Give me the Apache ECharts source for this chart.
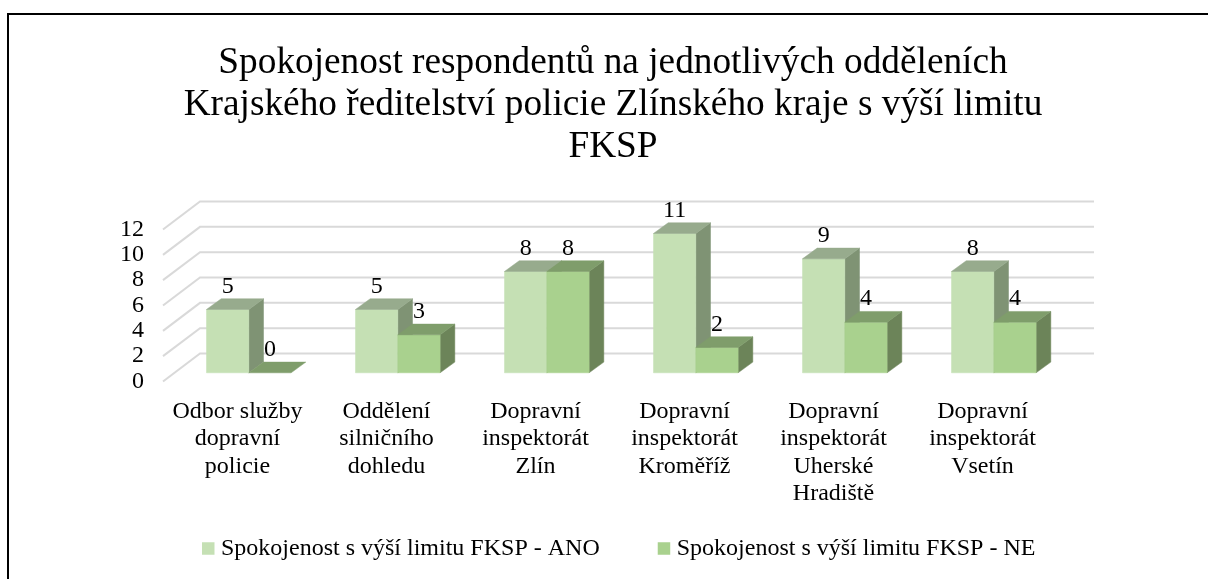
<!DOCTYPE html>
<html>
<head>
<meta charset="utf-8">
<style>html,body{margin:0;padding:0;background:#fff}#c{width:1208px;height:579px}</style>
<script src="https://cdn.jsdelivr.net/npm/echarts@6/dist/echarts.min.js"></script>
</head>
<body>
<div id="c"></div>
<script>
const titleLines = ['Spokojenost respondentů na jednotlivých odděleních', 'Krajského ředitelství policie Zlínského kraje s výší limitu', 'FKSP'];
const categories = ['Odbor služby\ndopravní\npolicie', 'Oddělení\nsilničního\ndohledu', 'Dopravní\ninspektorát\nZlín', 'Dopravní\ninspektorát\nKroměříž', 'Dopravní\ninspektorát\nUherské\nHradiště', 'Dopravní\ninspektorát\nVsetín'];
const seriesNames = ['Spokojenost s výší limitu FKSP - ANO', 'Spokojenost s výší limitu FKSP - NE'];
const valuesAno = [5, 5, 8, 11, 9, 8];
const valuesNe = [0, 3, 8, 2, 4, 4];
const yTicks = [0, 2, 4, 6, 8, 10, 12];

const FONT = '"Liberation Serif","Times New Roman",serif';
const WALL = [37, -28];      // offset of the back wall from the axis plane
const BAR_SHIFT = [11.3, -8.7]; // offset of bar fronts from the axis plane
const BAR_DEPTH = [14.7, -10.7];
const BAR_RATIO = 84.6 / 149 / 2; // bar width relative to the category band
const PAL = [
  {front: '#C5E0B4', top: '#97AB8D', side: '#7F9374'},
  {front: '#A9D18E', top: '#7F9D6B', side: '#6C8459'}
];

function poly(points, fill) {
  return {type: 'polygon', shape: {points}, style: {fill, stroke: fill, lineWidth: 0.5}};
}

function barRenderer(k) {
  return function (params, api) {
    const idx = api.value(0), val = api.value(1);
    const band = api.size([1, 0])[0];
    const w = band * BAR_RATIO;
    const c = api.coord([idx, val]), b = api.coord([idx, 0]);
    const xl = c[0] - w + k * w + BAR_SHIFT[0], xr = xl + w;
    const yt = c[1] + BAR_SHIFT[1], yb = b[1] + BAR_SHIFT[1];
    const dx = BAR_DEPTH[0], dy = BAR_DEPTH[1];
    const col = PAL[k];
    const kids = [];
    if (val > 0) {
      kids.push(poly([[xr, yt], [xr + dx, yt + dy], [xr + dx, yb + dy], [xr, yb]], col.side));
      kids.push(poly([[xl, yt], [xr, yt], [xr, yb], [xl, yb]], col.front));
    }
    kids.push(poly([[xl, yt], [xl + dx, yt + dy], [xr + dx, yt + dy], [xr, yt]], col.top));
    kids.push({
      type: 'text', z2: 100,
      style: {text: String(val), x: (xl + xr) / 2, y: yt - 23, fill: '#000', font: '24px ' + FONT, align: 'center', verticalAlign: 'middle'}
    });
    return {type: 'group', children: kids};
  };
}

function gridRenderer(params, api) {
  const cs = params.coordSys;
  const y = api.coord([0, api.value(1)])[1];
  return {
    type: 'polyline',
    shape: {points: [[cs.x, y], [cs.x + WALL[0], y + WALL[1]], [cs.x + cs.width + WALL[0], y + WALL[1]]]},
    style: {stroke: '#D9D9D9', lineWidth: 2, fill: 'none'},
    silent: true
  };
}

const chart = echarts.init(document.getElementById('c'), null, {renderer: 'canvas'});
chart.setOption({
  animation: false,
  backgroundColor: '#fff',
  textStyle: {fontFamily: FONT},
  title: {
    text: titleLines.join('\n'),
    left: 613, top: 42, padding: 0, textAlign: 'center',
    textStyle: {fontFamily: FONT, fontWeight: 'normal', fontSize: 37.3, lineHeight: 42.2, color: '#000'}
  },
  legend: {
    data: seriesNames,
    left: 202, top: 536.5, padding: 0, itemWidth: 12.5, itemHeight: 12.5, itemGap: 58,
    icon: 'rect',
    textStyle: {fontFamily: FONT, fontSize: 24, color: '#000', padding: [0, 0, 0, 1.5]}
  },
  grid: {left: 163, width: 894, top: 229.5, height: 152},
  xAxis: {
    type: 'category', data: categories,
    axisLine: {show: false}, axisTick: {show: false},
    axisLabel: {interval: 0, margin: 16, color: '#000', fontFamily: FONT, fontSize: 24, lineHeight: 27.5, verticalAlign: 'top'}
  },
  yAxis: {
    type: 'value', min: 0, max: 12, interval: 2,
    axisLine: {show: false}, axisTick: {show: false}, splitLine: {show: false},
    axisLabel: {margin: 19, color: '#000', fontFamily: FONT, fontSize: 24}
  },
  graphic: [
    {type: 'polyline', shape: {points: [[8, 579], [8, 14], [1208, 14]]}, style: {stroke: '#000', lineWidth: 2, fill: 'none'}, silent: true}
  ],
  series: [
    {type: 'custom', name: 'grid', renderItem: gridRenderer, data: yTicks.map(v => [0, v]), encode: {x: 0, y: 1}, silent: true, z: 1},
    {type: 'custom', name: seriesNames[0], renderItem: barRenderer(0), data: valuesAno.map((v, i) => [i, v]), encode: {x: 0, y: 1}, itemStyle: {color: PAL[0].front}, z: 2},
    {type: 'custom', name: seriesNames[1], renderItem: barRenderer(1), data: valuesNe.map((v, i) => [i, v]), encode: {x: 0, y: 1}, itemStyle: {color: PAL[1].front}, z: 3}
  ]
});
</script>
</body>
</html>
